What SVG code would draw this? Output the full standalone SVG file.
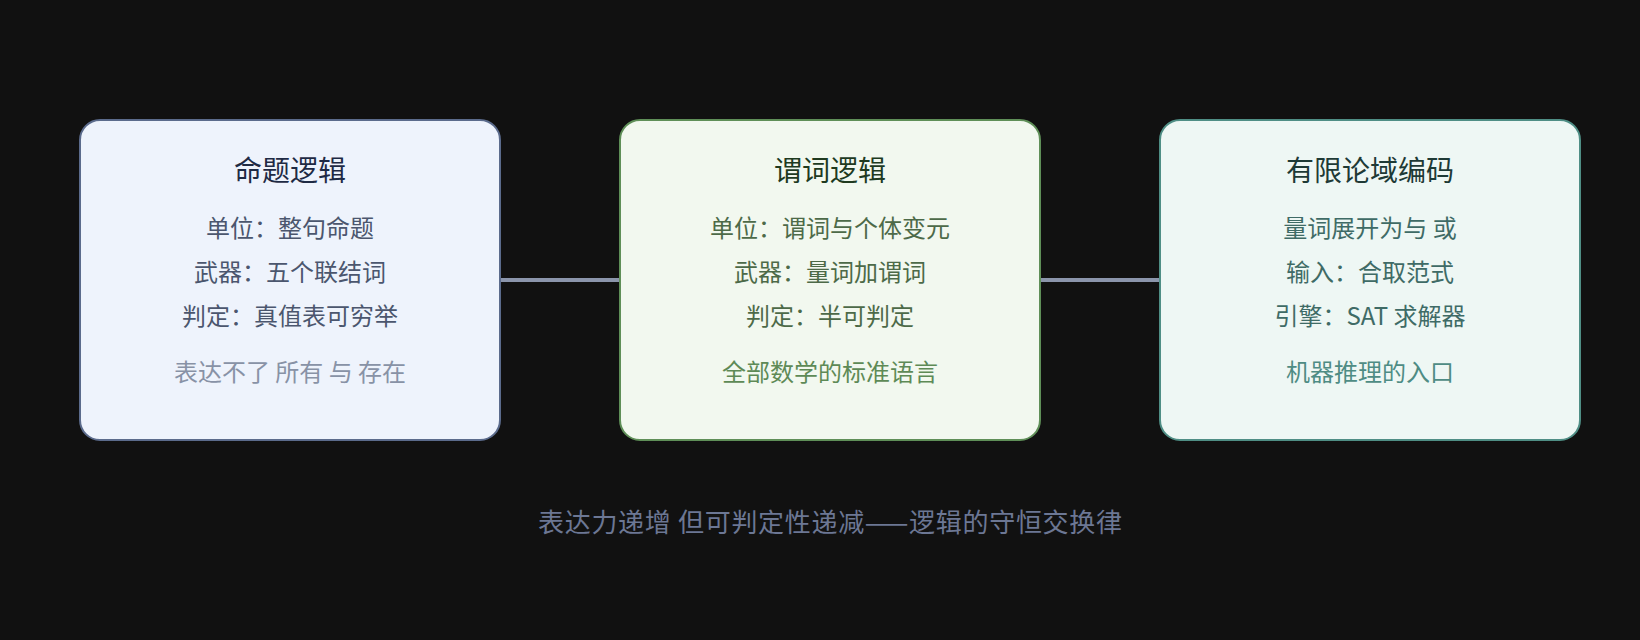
<svg xmlns="http://www.w3.org/2000/svg" width="1640" height="640" viewBox="0 0 1640 640">
<style>
text{font-family:"Noto Sans CJK SC","Noto Sans",sans-serif;text-anchor:middle}
.t{font-size:28px}
.b{font-size:24px}
.box{stroke-width:2}
.conn{stroke:#8b95ab;stroke-width:4;fill:none}
</style>
<rect width="1640" height="640" fill="#111111"/>
<g id="connectors">
<line class="conn" x1="500" y1="280" x2="620" y2="280"/>
<line class="conn" x1="1040" y1="280" x2="1160" y2="280"/>
</g>
<g id="node-propositional">
<rect class="box" x="80" y="120" width="420" height="320" rx="20" fill="#eef3fc" stroke="#5b6b8c"/>
<text class="t" x="290" y="181" fill="#1e2a44">命题逻辑</text>
<text class="b" x="290" y="237" fill="#4b566e">单位：整句命题</text>
<text class="b" x="290" y="281" fill="#4b566e">武器：五个联结词</text>
<text class="b" x="290" y="325" fill="#4b566e">判定：真值表可穷举</text>
<text class="b" x="290" y="381" fill="#8892a6">表达不了 所有 与 存在</text>
</g>
<g id="node-predicate">
<rect class="box" x="620" y="120" width="420" height="320" rx="20" fill="#f2f8ef" stroke="#5f8f58"/>
<text class="t" x="830" y="181" fill="#203a1f">谓词逻辑</text>
<text class="b" x="830" y="237" fill="#4d6a48">单位：谓词与个体变元</text>
<text class="b" x="830" y="281" fill="#4d6a48">武器：量词加谓词</text>
<text class="b" x="830" y="325" fill="#4d6a48">判定：半可判定</text>
<text class="b" x="830" y="381" fill="#5e8a56">全部数学的标准语言</text>
</g>
<g id="node-finite">
<rect class="box" x="1160" y="120" width="420" height="320" rx="20" fill="#eef7f4" stroke="#4f8e85"/>
<text class="t" x="1370" y="181" fill="#1e3a36">有限论域编码</text>
<text class="b" x="1370" y="237" fill="#3f6b66">量词展开为与 或</text>
<text class="b" x="1370" y="281" fill="#3f6b66">输入：合取范式</text>
<text class="b" x="1370" y="325" fill="#3f6b66">引擎：SAT 求解器</text>
<text class="b" x="1370" y="381" fill="#4e8c84">机器推理的入口</text>
</g>
<text x="830" y="532" font-size="26" fill="#6c7794" textLength="584" lengthAdjust="spacing">表达力递增 但可判定性递减——逻辑的守恒交换律</text>
</svg>
